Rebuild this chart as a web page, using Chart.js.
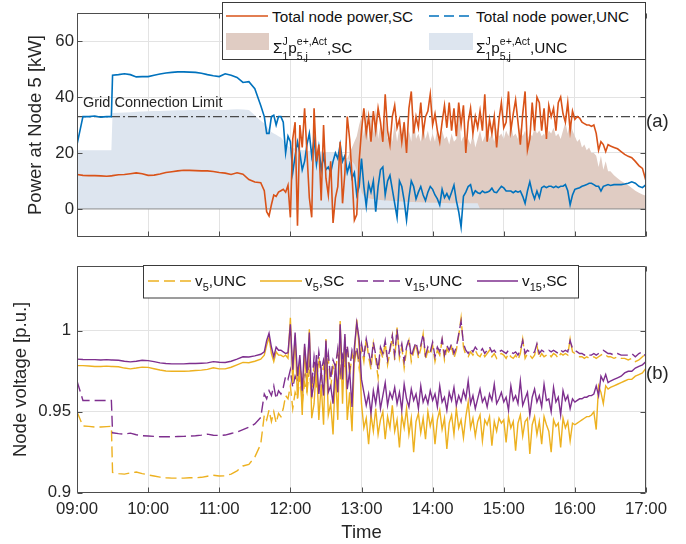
<!DOCTYPE html>
<html>
<head>
<meta charset="utf-8">
<script src="https://cdn.jsdelivr.net/npm/chart.js@4.4.1/dist/chart.umd.min.js"></script>
<style>
  body { margin: 0; background: #fff; font-family: 'Liberation Sans', Arial, Helvetica, sans-serif; color: #262626; }
  #wrap { position: relative; width: 686px; height: 544px; overflow: hidden; }
  canvas { position: absolute; left: 0; }
  #topChart { top: 0; }
  #botChart { top: 250px; }
  #overlay { position: absolute; left: 0; top: 0; }
  .t { position: absolute; white-space: nowrap; line-height: 1; }
  .lg { font-size: 15.3px; color: #111; }
  .st { display: inline-flex; flex-direction: column; vertical-align: 8.4px; font-size: 10.5px; line-height: 15px; }
  .sb { font-size: 11px; vertical-align: -5px; }
</style>
</head>
<body>
<div id="wrap">
  <canvas id="topChart" width="686" height="250"></canvas>
  <canvas id="botChart" width="686" height="294"></canvas>

  <svg id="overlay" width="686" height="544">
    <rect x="222.5" y="2.5" width="423" height="57" fill="#fff" stroke="#3a3a3a" stroke-width="1"/>
    <line x1="226" y1="16" x2="268" y2="16" stroke="#D95319" stroke-width="1.6"/>
    <line x1="429" y1="16" x2="473" y2="16" stroke="#0072BD" stroke-width="1.6" stroke-dasharray="10 5"/>
    <rect x="226" y="33" width="43" height="17" fill="rgb(224,204,195)"/>
    <rect x="429" y="33" width="44" height="17" fill="rgb(221,229,239)"/>

    <rect x="143.5" y="265.5" width="435" height="32.5" fill="#fff" stroke="#3a3a3a" stroke-width="1"/>
    <line x1="148" y1="281" x2="192" y2="281" stroke="#EDB120" stroke-width="1.4" stroke-dasharray="11 5"/>
    <line x1="260" y1="281" x2="302" y2="281" stroke="#EDB120" stroke-width="1.4"/>
    <line x1="357" y1="281" x2="401" y2="281" stroke="#7E2F8E" stroke-width="1.4" stroke-dasharray="11 5"/>
    <line x1="477" y1="281" x2="518" y2="281" stroke="#7E2F8E" stroke-width="1.4"/>
  </svg>

  <div class="t lg" style="left:272px; top:8.8px;">Total node power,SC</div>
  <div class="t lg" style="left:476px; top:8.8px;">Total node power,UNC</div>
  <div class="t lg" style="left:273px; top:34.2px;">&Sigma;<span class="st"><span>J</span><span>1</span></span>p<span class="st"><span>e+,Act</span><span>5,j</span></span>,SC</div>
  <div class="t lg" style="left:476px; top:34.2px;">&Sigma;<span class="st"><span>J</span><span>1</span></span>p<span class="st"><span>e+,Act</span><span>5,j</span></span>,UNC</div>

  <div class="t lg" style="left:195px; top:273.3px;">v<span class="sb">5</span>,UNC</div>
  <div class="t lg" style="left:305px; top:273.3px;">v<span class="sb">5</span>,SC</div>
  <div class="t lg" style="left:405px; top:273.3px;">v<span class="sb">15</span>,UNC</div>
  <div class="t lg" style="left:522px; top:273.3px;">v<span class="sb">15</span>,SC</div>

  <div class="t" style="left:83px; top:94.6px; font-size:14.5px;">Grid Connection Limit</div>
  <div class="t" style="left:646px; top:112px; font-size:18.5px;">(a)</div>
  <div class="t" style="left:646px; top:364px; font-size:18.5px;">(b)</div>
</div>

<script>
// time grid, minutes after 09:00
const minutes = [0, 5, 10, 15, 20, 25, 29];
for (let m = 30; m <= 155; m += 5) minutes.push(m);
for (let m = 158; m <= 450; m += 2) minutes.push(m);
for (let m = 453; m <= 480; m += 3) minutes.push(m);

const gridLimit = 33;
const areaBaseline = 0;

// total node power, kW
const powerSC = [
  12.3, 12.0, 11.9, 11.9, 11.8, 11.7, 11.8, 11.9, 12.2, 12.3, 12.6, 12.9, 12.6, 12.0, 12.1, 12.5, 13.0,
  13.3, 13.6, 13.8, 13.8, 13.7, 13.6, 13.6, 13.4, 13.0, 12.8, 12.3, 12.9, 12.4, 10.5, 9.6, 9.4,
  6.5, -1, -2.5, 1.5, 5, 4.5, 6, 6.5, 7, 6, 8.5,
  -3, 25, 31, -6, 30, 22, 36, 20, 4, -3, 36, 17, 23, 3, 30,
  11, 5, 17, -5, 4, 8, 24, 2, 13, 33, 25, 12, -4, -2, 17,
  28, 36, 27, 33, 24, 35, 28, 36, 31, 24, 41, 28, 23, 33, 37,
  29, 32, 24, 31, 20, 36, 42, 27, 33, 29, 38, 27, 33, 35, 41,
  30, 34, 28, 24, 31, 37, 29, 38, 28, 36, 26, 38, 30, 37, 20,
  31, 36, 27, 33, 29, 35, 28, 41, 24, 32, 27, 33, 22, 32, 38,
  29, 31, 42, 28, 34, 39, 31, 23, 34, 42, 21, 25, 38, 28, 40,
  38, 28, 36, 25, 37, 33, 36, 28, 38, 40, 34, 31, 38, 28, 35,
  32, 33, 32.5, 31, 30.5, 30, 30, 29.5, 30, 27, 21, 24, 23, 20.5, 23,
  22.5,
  22, 21.5, 20.5, 19.5, 18.8, 18.3, 17, 15.5, 14.5, 10
];
const powerUNC = [
  23, 33, 33, 33.2, 32.8, 33, 33, 47.8, 48, 48.3, 48, 47.2, 47.3, 47.3, 47.8, 48.2, 48.6,
  48.8, 49, 49, 48.9, 48.8, 48.5, 48, 47.6, 47.3, 48.3, 47.8, 47, 45.2, 45.5, 43, 37,
  33, 27, 27, 33, 33.5, 30, 33, 33, 31, 20, 26,
  24, 13, 19, 24, 20, 14, 17, 23, 27, 19, 25, 16, 22, 14, 19,
  14, 15, 13, 17, 20, 18, 23, 17, 19, 13, 16, 11, 13, 5, 8,
  18, 8, 1, 9, 6, 10, -1, 8, 14, 15, 5, 10, 12, 7, 2,
  -3, 10, 8, 3, -4, 4, 10, 8, 3.6, 6, 8, 5, 3, 6, 8,
  7, 5, 3.6, 1.4, 7, 4, 5.5, 3.6, 6, 8.5, 3, -1, -6.5, 4.5, 6,
  8, 8.7, 5, 6.5, 5.8, 5.5, 6.4, 5.8, 6, 6.4, 7.4, 6, 5.8, 7, 8.1,
  7.5, 6.4, 6.4, 6.4, 5.8, 6.4, 6, 6.4, 4.5, 2, 6.4, 9.7, 6, 3.6, 6.4,
  4, 7.6, 8.1, 7.6, 8.1, 8.1, 7.6, 8.1, 7.6, 8.1, 8.1, 8.7, 6.5, 1.5, 5,
  7, 7.3, 7.6, 8.1, 8.4, 8.7, 9.2, 9.2, 8.7, 8.1, 8.1, 6.4, 8.1, 8.4, 8.7,
  8.4,
  8.7, 8.7, 8.7, 8.9, 9.2, 9.7, 9.2, 8.1, 7.6, 8.7
];
// sum of active EV power at node 5, kW
const evSumUNC = [
  21, 21, 21, 21, 21, 21, 21, 34.3, 34.4, 34.5, 34.6, 34.7, 34.8, 34.9, 35, 35, 35.1,
  35.2, 35.3, 35.3, 35.4, 35.4, 35.5, 35.5, 35.5, 35.4, 35.4, 35.5, 35.6, 35.5, 35.4, 33.5, 31.5,
  30.5, 29.5, 28.5, 27.5, 27, 26.5, 26, 25.5, 24.5, 23.5, 22.5,
  22, 21.8, 21.6, 21.4, 21.2, 21, 21, 20.8, 20.8, 20.7, 20.6, 20.6, 20.5, 20.5, 20.4,
  20.3, 20.2, 20.1, 20, 20, 19.8, 19.5, 19, 18.5, 18, 17.5, 17, 16, 14, 10,
  6, 4.5, 4, 3.8, 3.6, 3.5, 3.4, 3.3, 3.2, 3.1, 3, 3, 2.9, 2.9, 2.8,
  2.8, 2.7, 2.7, 2.6, 2.6, 2.5, 2.5, 2.5, 2.4, 2.4, 2.4, 2.3, 2.3, 2.3, 2.2,
  2.2, 2.2, 2.2, 2.1, 2.1, 2.1, 2.1, 2, 2, 2, 2, 2, 2, 2, 2,
  2, 2, 2, 2, 2, 0, 0, 0, 0, 0, 0, 0, 0, 0, 0,
  0, 0, 0, 0, 0, 0, 0, 0, 0, 0, 0, 0, 0, 0, 0,
  0, 0, 0, 0, 0, 0, 0, 0, 0, 0, 0, 0, 0, 0, 0,
  0, 0, 0, 0, 0, 0, 0, 0, 0, 0, 0, 0, 0, 0, 0,
  0,
  0, 0, 0, 0, 0, 0, 0, 0, 0, 0
];
const evSumSC = [
  0, 0, 0, 0, 0, 0, 0, 0, 0, 0, 0, 0, 0, 0, 0, 0, 0,
  0, 0, 0, 0, 0, 0, 0, 0, 0, 0, 0, 0, 0, 0, 0, 0,
  0, 0, 0, 0, 0, 0, 0, 0, 0, 0, 0,
  0, 0, 0, 0, 0, 0, 0, 0, 0, 0, 0, 0, 0, 0, 0,
  0, 0, 0, 0, 0, 0, 0, 0, 15, 18, 20, 22, 24, 26, 30,
  33, 26, 36, 24, 35, 27, 36, 25, 30, 24, 33, 25, 28, 24, 31,
  24, 29, 23, 32, 25, 28, 24, 34, 25, 27, 24, 30, 25, 28, 24,
  27, 24, 29, 23, 28, 25, 26, 23, 27, 24, 25, 37, 24, 26, 23,
  25, 23, 27, 22, 25, 28, 24, 26, 31, 25, 27, 24, 29, 26, 27,
  25, 28, 26, 31, 26, 27, 25, 29, 26, 28, 25, 27, 26, 29, 27,
  28, 26, 27, 25, 28, 27, 29, 26, 27, 25, 28, 31, 27, 32, 28,
  26, 24, 25, 22, 23, 21, 22, 20, 20, 19, 15, 19, 14, 17, 13.5,
  13.5,
  12, 11, 10, 9.3, 8.5, 7.5, 6.5, 5.8, 5.2, 4.7
];

// node voltages, p.u.
const v15SC = [
  0.9825, 0.9823, 0.9822, 0.9822, 0.982, 0.9822, 0.982, 0.982, 0.9818, 0.9812, 0.9808, 0.9812, 0.9818, 0.9816, 0.981, 0.9802, 0.9798,
  0.9796, 0.9796, 0.9796, 0.9798, 0.9798, 0.98, 0.9802, 0.981, 0.9806, 0.9804, 0.9812, 0.9825, 0.984, 0.9838, 0.9845, 0.9855,
  0.987, 0.994, 0.9985, 0.99, 0.984, 0.99, 0.988, 0.988, 0.987, 0.986, 0.9865,
  1.004, 0.976, 0.999, 0.972, 0.985, 0.963, 0.992, 0.974, 0.999, 0.959, 0.968, 0.985, 0.961, 0.975, 0.96,
  0.994, 0.962, 0.966, 0.955, 0.979, 0.962, 1.004, 0.97, 0.998, 0.964, 0.975, 0.953, 0.99, 1.005, 0.995,
  0.97, 0.962, 0.954, 0.961, 0.949, 0.963, 0.955, 0.966, 0.952, 0.96, 0.968, 0.954, 0.962, 0.958, 0.965,
  0.955, 0.962, 0.951, 0.967, 0.958, 0.953, 0.964, 0.957, 0.961, 0.952, 0.966, 0.956, 0.96, 0.955, 0.963,
  0.957, 0.961, 0.953, 0.966, 0.956, 0.959, 0.951, 0.962, 0.957, 0.965, 0.954, 0.96, 0.956, 0.963, 0.958,
  0.969, 0.955, 0.96, 0.952, 0.958, 0.964, 0.956, 0.959, 0.953, 0.961, 0.957, 0.967, 0.955, 0.958, 0.962,
  0.956, 0.959, 0.951, 0.966, 0.957, 0.96, 0.955, 0.969, 0.954, 0.958, 0.962, 0.948, 0.959, 0.964, 0.956,
  0.96, 0.953, 0.967, 0.957, 0.958, 0.95, 0.965, 0.956, 0.959, 0.948, 0.963, 0.957, 0.96, 0.952, 0.958,
  0.956, 0.957, 0.958, 0.958, 0.959, 0.959, 0.96, 0.96, 0.961, 0.966, 0.96, 0.972, 0.969, 0.973, 0.968,
  0.969,
  0.97, 0.971, 0.972, 0.974, 0.975, 0.975, 0.977, 0.978, 0.979, 0.981
];
const v5SC = [
  0.9785, 0.9785, 0.9783, 0.978, 0.978, 0.9782, 0.978, 0.978, 0.9778, 0.977, 0.9765, 0.977, 0.9776, 0.9774, 0.9766, 0.9758, 0.9752,
  0.975, 0.975, 0.975, 0.9752, 0.9755, 0.9757, 0.9762, 0.9772, 0.9765, 0.9765, 0.9775, 0.979, 0.9805, 0.9803, 0.9812, 0.9825,
  0.985, 0.991, 0.996, 0.986, 0.981, 0.987, 0.985, 0.985, 0.984, 0.985, 0.983,
  1.008, 0.968, 0.997, 0.958, 0.982, 0.948, 0.99, 0.962, 1.001, 0.946, 0.955, 0.98, 0.945, 0.967, 0.942,
  0.995, 0.948, 0.955, 0.936, 0.975, 0.945, 1.006, 0.955, 0.996, 0.945, 0.962, 0.938, 0.985, 1.007, 0.99,
  0.955, 0.94, 0.946, 0.93, 0.948, 0.938, 0.952, 0.936, 0.945, 0.95, 0.933, 0.947, 0.94, 0.954, 0.938,
  0.945, 0.928, 0.948, 0.94, 0.952, 0.936, 0.946, 0.925, 0.944, 0.949, 0.937, 0.946, 0.933, 0.95, 0.941,
  0.947, 0.93, 0.945, 0.951, 0.939, 0.946, 0.927, 0.943, 0.948, 0.936, 0.952, 0.94, 0.945, 0.934, 0.947,
  0.956, 0.94, 0.946, 0.935, 0.944, 0.948, 0.932, 0.945, 0.942, 0.947, 0.929, 0.944, 0.938, 0.946, 0.943,
  0.945, 0.931, 0.947, 0.94, 0.944, 0.926, 0.943, 0.948, 0.935, 0.944, 0.946, 0.924, 0.942, 0.947, 0.936,
  0.944, 0.93, 0.947, 0.942, 0.938, 0.925, 0.945, 0.941, 0.943, 0.928, 0.946, 0.94, 0.944, 0.932, 0.943,
  0.942, 0.943, 0.944, 0.945, 0.946, 0.947, 0.947, 0.948, 0.95, 0.939, 0.966, 0.962, 0.955, 0.966, 0.964,
  0.965,
  0.966, 0.967, 0.968, 0.969, 0.97, 0.97, 0.972, 0.973, 0.974, 0.977
];
const v15UNC = [
  0.969, 0.957, 0.957, 0.957, 0.957, 0.957, 0.957, 0.937, 0.9365, 0.9362, 0.9368, 0.9358, 0.9352, 0.935, 0.9348, 0.9346, 0.9346,
  0.9346, 0.9347, 0.9348, 0.935, 0.9352, 0.9356, 0.9362, 0.9355, 0.9354, 0.9356, 0.9366, 0.9375, 0.939, 0.9405, 0.9425, 0.9465,
  0.961, 0.958, 0.963, 0.96, 0.966, 0.958, 0.963, 0.961, 0.965, 0.972, 0.97,
  0.976, 0.965, 0.972, 0.968, 0.979, 0.963, 0.975, 0.97, 0.98, 0.966, 0.984, 0.972, 0.987, 0.975, 0.982,
  0.975, 0.986, 0.97, 0.982, 0.978, 0.989, 0.974, 0.985, 0.98, 0.991, 0.976, 0.988, 0.983, 0.99, 0.98,
  0.992, 0.984, 0.995, 0.987, 0.98, 0.993, 0.985, 0.976, 0.99, 0.986, 0.994, 0.982, 0.989, 0.997, 0.985,
  1.001, 0.986, 0.992, 0.981, 0.99, 0.995, 0.984, 0.989, 0.993, 0.986, 0.991, 0.998, 0.985, 0.99, 0.987,
  0.993, 0.984, 0.99, 0.987, 0.995, 0.985, 0.991, 0.988, 0.992, 0.986, 0.99, 0.998, 1.006, 0.992, 0.988,
  0.986, 0.989, 0.987, 0.99, 0.988, 0.987, 0.989, 0.986, 0.988, 0.99, 0.987, 0.988, 0.986, 0.987, 0.988,
  0.987, 0.986, 0.988, 0.987, 0.986, 0.987, 0.985, 0.988, 0.994, 0.986, 0.988, 0.987, 0.986, 0.987, 0.992,
  0.986, 0.988, 0.987, 0.987, 0.988, 0.987, 0.988, 0.987, 0.986, 0.988, 0.987, 0.988, 0.987, 0.994, 0.989,
  0.988, 0.987, 0.986, 0.986, 0.985, 0.986, 0.985, 0.985, 0.986, 0.985, 0.986, 0.987, 0.988, 0.987, 0.986,
  0.986,
  0.985, 0.986, 0.985, 0.985, 0.985, 0.986, 0.984, 0.986, 0.987, 0.984
];
const v5UNC = [
  0.95, 0.9412, 0.941, 0.9406, 0.9406, 0.9408, 0.941, 0.9125, 0.9118, 0.9115, 0.9122, 0.9128, 0.9118, 0.911, 0.9103, 0.9096, 0.9092,
  0.909, 0.909, 0.909, 0.9092, 0.9092, 0.9095, 0.9102, 0.9108, 0.9103, 0.9104, 0.9115, 0.9135, 0.9165, 0.9175, 0.922, 0.93,
  0.948, 0.945, 0.951, 0.944, 0.95, 0.943, 0.949, 0.947, 0.952, 0.96, 0.958,
  0.966, 0.952, 0.962, 0.958, 0.972, 0.955, 0.968, 0.962, 0.976, 0.958, 0.98, 0.965, 0.984, 0.97, 0.978,
  0.97, 0.983, 0.965, 0.978, 0.974, 0.987, 0.97, 0.982, 0.977, 0.99, 0.972, 0.986, 0.98, 0.989, 0.977,
  0.99, 0.981, 0.995, 0.984, 0.976, 0.992, 0.982, 0.971, 0.988, 0.983, 0.993, 0.979, 0.987, 0.997, 0.982,
  1.002, 0.983, 0.99, 0.977, 0.988, 0.994, 0.981, 0.987, 0.992, 0.983, 0.989, 0.998, 0.982, 0.988, 0.985,
  0.991, 0.981, 0.988, 0.985, 0.994, 0.982, 0.989, 0.986, 0.99, 0.983, 0.988, 0.997, 1.008, 0.99, 0.985,
  0.984, 0.987, 0.985, 0.988, 0.985, 0.984, 0.987, 0.984, 0.986, 0.988, 0.984, 0.986, 0.983, 0.985, 0.986,
  0.985, 0.983, 0.986, 0.984, 0.983, 0.985, 0.982, 0.986, 0.995, 0.983, 0.986, 0.985, 0.983, 0.985, 0.991,
  0.983, 0.986, 0.984, 0.985, 0.986, 0.984, 0.986, 0.985, 0.983, 0.986, 0.985, 0.986, 0.985, 0.995, 0.987,
  0.986, 0.985, 0.984, 0.984, 0.983, 0.984, 0.983, 0.983, 0.984, 0.983, 0.984, 0.985, 0.986, 0.985, 0.984,
  0.984,
  0.983, 0.984, 0.983, 0.983, 0.982, 0.983, 0.981, 0.982, 0.984, 0.986
];

const powerTicks = [0, 20, 40, 60];
const voltTicks = [0.9, 0.95, 1];

Chart.defaults.font.family = "'Liberation Sans', Arial, Helvetica, sans-serif";
Chart.defaults.color = '#262626';

const gridColor = '#e3e3e3';
const tickFont = { size: 16.8 };
const titleFont = { size: 18.5 };

const pts = arr => minutes.map((m, i) => ({ x: m, y: arr[i] }));
const flat = v => [{ x: minutes[0], y: v }, { x: minutes[minutes.length - 1], y: v }];

// box around the axes with inward tick marks, like the original figure
const axesBox = {
    id: 'axesBox',
    afterDatasetsDraw(chart) {
        const { ctx, chartArea: a, scales: { x, y } } = chart;
        const L = Math.round(a.left) + 0.5, R = Math.round(a.right) - 0.5;
        const T = Math.round(a.top) + 0.5, B = Math.round(a.bottom) - 0.5;
        ctx.save();
        ctx.strokeStyle = '#4d4d4d';
        ctx.lineWidth = 1;
        ctx.beginPath();
        ctx.rect(L, T, R - L, B - T);
        x.ticks.forEach(t => {
            const px = Math.round(x.getPixelForValue(t.value)) + 0.5;
            ctx.moveTo(px, B); ctx.lineTo(px, B - 5);
            ctx.moveTo(px, T); ctx.lineTo(px, T + 5);
        });
        y.ticks.forEach(t => {
            const py = Math.round(y.getPixelForValue(t.value)) + 0.5;
            ctx.moveTo(L, py); ctx.lineTo(L + 5, py);
            ctx.moveTo(R, py); ctx.lineTo(R - 5, py);
        });
        ctx.stroke();
        ctx.restore();
    }
};

function lineSet(data, color, width, dash, order) {
    return {
        data: data, borderColor: color, borderWidth: width, borderDash: dash || [],
        pointRadius: 0, tension: 0, fill: false, order: order
    };
}

function areaSet(data, color, order) {
    return {
        data: data, borderColor: 'rgba(0,0,0,0)', borderWidth: 0, backgroundColor: color,
        pointRadius: 0, tension: 0, fill: 'origin', order: order
    };
}

const commonX = {
    type: 'linear', min: 0, max: 480,
    grid: { color: gridColor, drawTicks: false },
    border: { display: false }
};

new Chart(document.getElementById('topChart'), {
    type: 'line',
    data: {
        datasets: [
            lineSet(pts(powerSC), '#D95319', 1.6, null, 0),
            lineSet(pts(powerUNC), '#0072BD', 1.6, null, 1),
            lineSet(flat(gridLimit), '#4a4a4a', 1.3, [9, 3, 2, 3], 2),
            lineSet(flat(areaBaseline), '#8c8c8c', 1, null, 3),
            areaSet(pts(evSumUNC), 'rgb(221,229,239)', 4),
            areaSet(pts(evSumSC), 'rgb(224,204,195)', 5)
        ]
    },
    options: {
        responsive: false,
        animation: false,
        layout: { padding: { top: 2, right: 40, left: 0, bottom: 0 } },
        plugins: { legend: { display: false }, tooltip: { enabled: false } },
        scales: {
            x: Object.assign({}, commonX, {
                ticks: { stepSize: 60, display: false },
                afterFit(s) { s.height = 11; }
            }),
            y: {
                type: 'linear', min: -10, max: 70,
                grid: { color: gridColor, drawTicks: false },
                border: { display: false },
                afterBuildTicks(s) { s.ticks = powerTicks.map(v => ({ value: v })); },
                ticks: { font: tickFont, padding: 3, callback: v => String(v) },
                title: { display: true, text: 'Power at Node 5 [kW]', font: titleFont, padding: { top: 25, bottom: 0 } },
                afterFit(s) { s.width = 77; }
            }
        }
    },
    plugins: [axesBox]
});

new Chart(document.getElementById('botChart'), {
    type: 'line',
    data: {
        datasets: [
            lineSet(pts(v15SC), '#7E2F8E', 1.4, null, 0),
            lineSet(pts(v5SC), '#EDB120', 1.4, null, 1),
            lineSet(pts(v15UNC), '#7E2F8E', 1.4, [11, 5], 2),
            lineSet(pts(v5UNC), '#EDB120', 1.4, [11, 5], 3)
        ]
    },
    options: {
        responsive: false,
        animation: false,
        layout: { padding: { top: 5, right: 40, left: 0, bottom: 0 } },
        plugins: { legend: { display: false }, tooltip: { enabled: false } },
        scales: {
            x: Object.assign({}, commonX, {
                ticks: {
                    stepSize: 60, font: tickFont, padding: 7, maxRotation: 0,
                    callback: v => String(9 + v / 60).padStart(2, '0') + ':00'
                },
                title: { display: true, text: 'Time', font: titleFont, padding: { top: 0, bottom: 0 } },
                afterFit(s) { s.height = 51.3; }
            }),
            y: {
                type: 'linear', min: 0.9, max: 1.04,
                grid: { color: gridColor, drawTicks: false },
                border: { display: false },
                afterBuildTicks(s) { s.ticks = voltTicks.map(v => ({ value: v })); },
                ticks: { font: tickFont, padding: 6, callback: v => String(v) },
                title: { display: true, text: 'Node voltage [p.u.]', font: titleFont, padding: { top: 10, bottom: 0 } },
                afterFit(s) { s.width = 77; }
            }
        }
    },
    plugins: [axesBox]
});
</script>
</body>
</html>
